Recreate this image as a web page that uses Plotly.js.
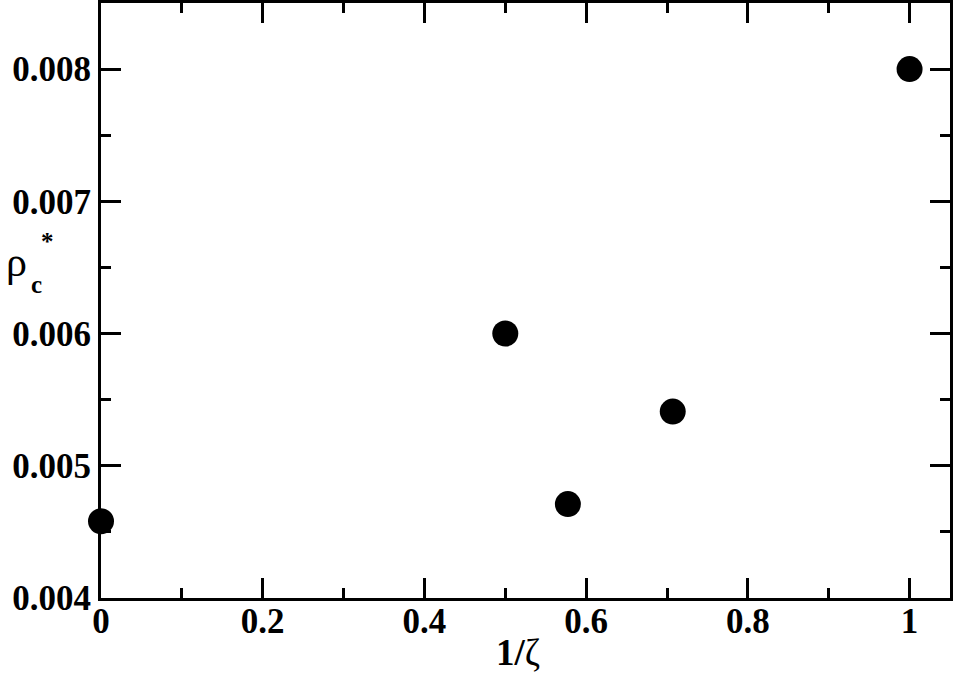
<!DOCTYPE html>
<html>
<head>
<meta charset="utf-8">
<script src="https://cdn.plot.ly/plotly-3.0.1.min.js"></script>
<style>html,body{margin:0;padding:0;background:#fff;}#plot{width:956px;height:678px;}</style>
</head>
<body>
<div id="plot"></div>
<script>
var invZeta = [0, 0.5, 0.5774, 0.7071, 1];
var rhoC = [0.00458, 0.0060, 0.00471, 0.00541, 0.0080];
var xTickVals = [0, 0.2, 0.4, 0.6, 0.8, 1];
var xTickText = ['0', '0.2', '0.4', '0.6', '0.8', '1'];
var yTickVals = [0.004, 0.005, 0.006, 0.007, 0.008];
var yTickText = ['0.004', '0.005', '0.006', '0.007', '0.008'];

var FAM = 'Liberation Serif';
var tickFont = {family: FAM, size: 35, color: '#000', weight: 'bold'};

var trace = {
  x: invZeta, y: rhoC, type: 'scatter', mode: 'markers',
  marker: {symbol: 'circle', size: 26, color: '#000'},
  cliponaxis: false, showlegend: false
};

var axisCommon = {
  showgrid: false, zeroline: false, showline: true, linecolor: '#000', linewidth: 3,
  mirror: 'ticks', ticks: 'inside', ticklen: 20, tickwidth: 3, tickcolor: '#000',
  tickmode: 'array', tickfont: tickFont
};

var layout = {
  width: 956, height: 678,
  margin: {l: 101, r: 6, t: 3, b: 80},
  paper_bgcolor: '#fff', plot_bgcolor: '#fff',
  xaxis: Object.assign({}, axisCommon, {
    range: [0, 1.05], tickvals: xTickVals, ticktext: xTickText, ticklabelstandoff: -10,
    minor: {dtick: 0.1, tick0: 0, ticks: 'inside', ticklen: 10, tickwidth: 3, tickcolor: '#000', showgrid: false}
  }),
  yaxis: Object.assign({}, axisCommon, {
    range: [0.004, 0.0085], tickvals: yTickVals, ticktext: yTickText,
    minor: {dtick: 0.0005, tick0: 0.004, ticks: 'inside', ticklen: 10, tickwidth: 3, tickcolor: '#000', showgrid: false}
  }),
  annotations: [
    {xref: 'paper', yref: 'paper', x: 0.491, y: -0.092, xanchor: 'center', yanchor: 'middle',
     text: '<b>1/</b>ζ', showarrow: false, font: {family: FAM, size: 37, color: '#000'}},
    {xref: 'paper', yref: 'paper', x: -0.1, y: 0.565, xanchor: 'center', yanchor: 'middle',
     text: 'ρ', showarrow: false, font: {family: FAM, size: 42, color: '#000'}},
    {xref: 'paper', yref: 'paper', x: -0.0765, y: 0.527, xanchor: 'center', yanchor: 'middle',
     text: '<b>c</b>', showarrow: false, font: {family: FAM, size: 25, color: '#000'}},
    {xref: 'paper', yref: 'paper', x: -0.0625, y: 0.6, xanchor: 'center', yanchor: 'middle',
     text: '<b>*</b>', showarrow: false, font: {family: FAM, size: 25, color: '#000'}}
  ]
};

Plotly.newPlot('plot', [trace], layout, {displayModeBar: false, staticPlot: true});
</script>
</body>
</html>
